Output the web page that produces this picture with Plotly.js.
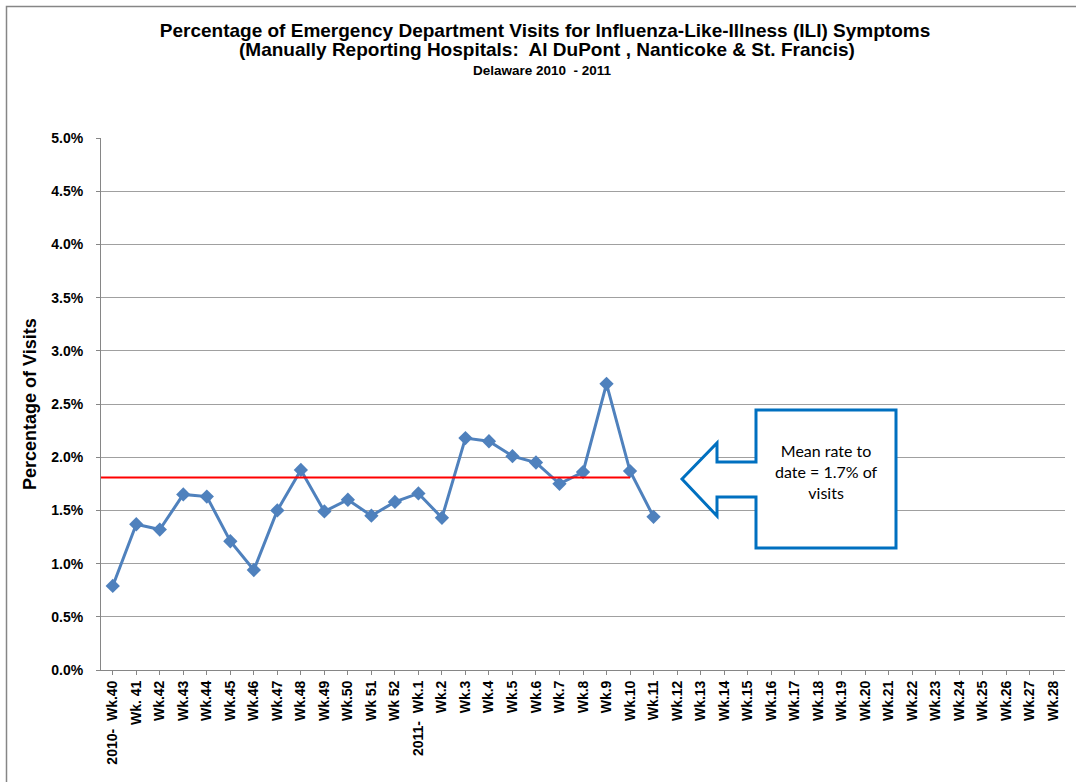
<!DOCTYPE html>
<html>
<head>
<meta charset="utf-8">
<script src="https://cdn.plot.ly/plotly-3.0.1.min.js"></script>
<style>
  html, body { margin: 0; padding: 0; background: #fff; }
  #chart { width: 1076px; height: 782px; }
</style>
</head>
<body>
<div id="chart"></div>
<script>
// ---- Data ----
const weeks = [
  "2010-  Wk.40", "Wk. 41", "Wk.42", "Wk.43", "Wk.44", "Wk.45", "Wk.46", "Wk.47",
  "Wk.48", "Wk.49", "Wk.50", "Wk 51", "Wk 52", "2011-  Wk.1", "Wk.2", "Wk.3",
  "Wk.4", "Wk.5", "Wk.6", "Wk.7", "Wk.8", "Wk.9", "Wk.10", "Wk.11", "Wk.12",
  "Wk.13", "Wk.14", "Wk.15", "Wk.16", "Wk.17", "Wk.18", "Wk.19", "Wk.20",
  "Wk.21", "Wk.22", "Wk.23", "Wk.24", "Wk.25", "Wk.26", "Wk.27", "Wk.28"
];
const iliPercent = [
  0.0079, 0.0137, 0.0132, 0.0165, 0.0163, 0.0121, 0.0094, 0.0150,
  0.0188, 0.0149, 0.0160, 0.0145, 0.0158, 0.0166, 0.0143, 0.0218,
  0.0215, 0.0201, 0.0195, 0.0175, 0.0186, 0.0269, 0.0187, 0.0144
];
const meanRate = 0.0181;
const meanLineEnd = "Wk.10";
const yTickVals = [0, 0.005, 0.01, 0.015, 0.02, 0.025, 0.03, 0.035, 0.04, 0.045, 0.05];
const titleLine1 = "Percentage of Emergency Department Visits for Influenza-Like-Illness (ILI) Symptoms";
const titleLine2 = "(Manually Reporting Hospitals:  Al DuPont , Nanticoke & St. Francis)";
const titleLine3 = "Delaware 2010  - 2011";
const yTitle = "Percentage of Visits";
const calloutText = "Mean rate to<br>date = 1.7% of<br>visits";

// ---- Layout helpers (pixel -> paper) ----
const W = 1076, H = 782;
const L = 101, R = 1065, T = 138, B = 670;
const px = x => (x - L) / (R - L);
const py = y => (B - y) / (B - T);

const calloutPts = [
  [682, 479], [717, 443], [717, 462], [756, 462], [756, 410], [896, 410],
  [896, 548], [756, 548], [756, 497], [717, 497], [717, 516]
];
const calloutPath = "M" + calloutPts.map(p => px(p[0]).toFixed(5) + "," + py(p[1]).toFixed(5)).join(" L") + " Z";
const borderPath = "M" + px(6.5) + "," + py(H + 5) + " L" + px(6.5) + "," + py(6.5) + " L" + px(W + 5) + "," + py(6.5);

const FONT = "Liberation Sans, Arial, sans-serif";

const trace = {
  type: "scatter",
  mode: "lines+markers",
  x: weeks.slice(0, iliPercent.length),
  y: iliPercent,
  line: { color: "#4F81BD", width: 3 },
  marker: { symbol: "diamond", size: 11, color: "#4F81BD" },
  hoverinfo: "x+y",
  showlegend: false
};

const layout = {
  width: W, height: H,
  margin: { l: L, r: W - R, t: T, b: H - B },
  paper_bgcolor: "#ffffff",
  plot_bgcolor: "#ffffff",
  font: { family: FONT, color: "#000" },
  title: {
    text: "<b>" + titleLine1 + "</b>",
    font: { family: FONT, size: 19, color: "#000" },
    x: 545 / W, xanchor: "center",
    y: 1 - 30 / H, yanchor: "middle", yref: "container"
  },
  xaxis: {
    type: "category",
    categoryorder: "array",
    categoryarray: weeks,
    tickvals: weeks,
    ticktext: weeks.map(w => "<b>" + w + "</b>"),
    range: [-0.5, weeks.length - 0.5],
    tickangle: -90,
    tickfont: { size: 14, family: FONT, color: "#000" },
    showgrid: false,
    showline: true, linecolor: "#868686", linewidth: 1,
    ticks: "outside", ticklen: 4, tickcolor: "#868686",
    zeroline: false,
    fixedrange: true
  },
  yaxis: {
    range: [0, 0.05],
    tickvals: yTickVals,
    tickformat: ".1%",
    tickfont: { size: 14, family: FONT, color: "#000", weight: "bold" },
    showgrid: true, gridcolor: "#A0A0A0", gridwidth: 1,
    showline: true, linecolor: "#868686", linewidth: 1,
    ticks: "outside", ticklen: 4, tickcolor: "#868686",
    ticklabelstandoff: 10,
    zeroline: false,
    fixedrange: true
  },
  shapes: [
    {
      type: "line", xref: "x", yref: "y",
      x0: -0.5, x1: weeks.indexOf(meanLineEnd), y0: meanRate, y1: meanRate,
      line: { color: "#FF0000", width: 2 }
    },
    {
      type: "path", xref: "paper", yref: "paper",
      path: calloutPath,
      fillcolor: "#ffffff",
      line: { color: "#0070C0", width: 3 }
    },
    {
      type: "path", xref: "paper", yref: "paper",
      path: borderPath,
      line: { color: "#868686", width: 1.5 }
    }
  ],
  annotations: [
    {
      xref: "paper", yref: "paper",
      x: px(547), y: py(50), xanchor: "center", yanchor: "middle",
      text: "<b>" + titleLine2 + "</b>", showarrow: false,
      font: { size: 19, family: FONT, color: "#000" }
    },
    {
      xref: "paper", yref: "paper",
      x: px(542), y: py(71), xanchor: "center", yanchor: "middle",
      text: "<b>" + titleLine3 + "</b>", showarrow: false,
      font: { size: 13.5, family: FONT, color: "#000" }
    },
    {
      xref: "paper", yref: "paper",
      x: px(30), y: 0.5, xanchor: "center", yanchor: "middle",
      text: "<b>" + yTitle + "</b>", textangle: -90, showarrow: false,
      font: { size: 18, family: FONT, color: "#000" }
    },
    {
      xref: "paper", yref: "paper",
      x: px(826), y: py(471), xanchor: "center", yanchor: "middle",
      text: calloutText, showarrow: false, align: "center",
      font: { size: 16, family: "Lato, 'Open Sans', sans-serif", color: "#000" }
    }
  ]
};

Plotly.newPlot("chart", [trace], layout, { displayModeBar: false, staticPlot: true });
</script>
</body>
</html>
